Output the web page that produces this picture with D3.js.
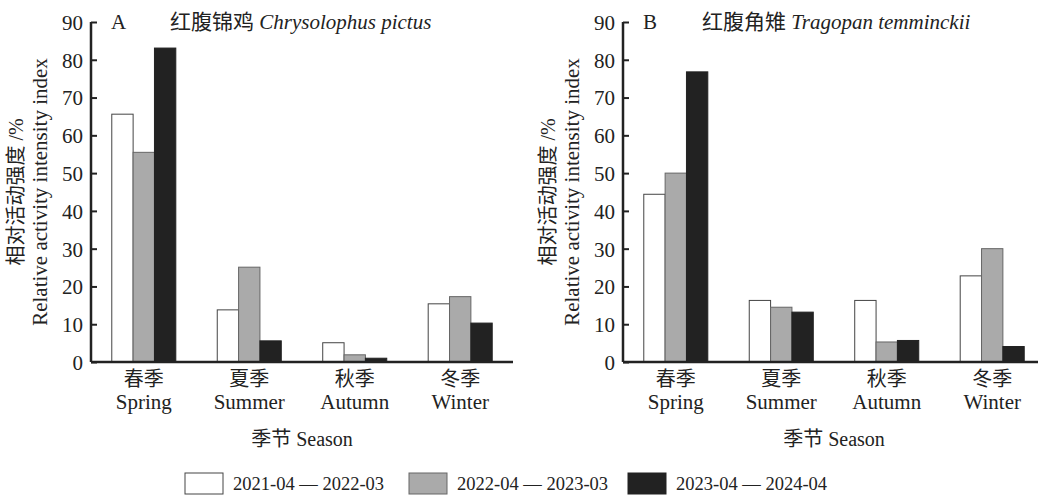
<!DOCTYPE html>
<html>
<head>
<meta charset="utf-8">
<script src="https://cdn.jsdelivr.net/npm/d3@7"></script>
<style>
  body { margin: 0; background: #fff; }
  text { font-family: "Liberation Serif", "Noto Sans CJK SC", serif; fill: #222; }
</style>
</head>
<body>
<svg id="chart" width="1038" height="496" font-family="Liberation Serif"></svg>
<script>
// data
const seasonsZh = ["春季", "夏季", "秋季", "冬季"];
const seasonsEn = ["Spring", "Summer", "Autumn", "Winter"];
const periods = ["2021-04 — 2022-03", "2022-04 — 2023-03", "2023-04 — 2024-04"];
const pictus = [[65.6, 55.5, 83.1], [13.8, 25.1, 5.6], [5.1, 1.9, 1.0], [15.4, 17.3, 10.3]];
const temminckii = [[44.4, 50.0, 76.8], [16.3, 14.5, 13.2], [16.3, 5.3, 5.7], [22.8, 30.0, 4.1]];
const yTicks = [0, 10, 20, 30, 40, 50, 60, 70, 80, 90];

const fills = ["#ffffff", "#aaaaaa", "#222222"];
const strokes = ["#444", "#666", "#222"];

const svg = d3.select("#chart");

// one panel
function panel(left, letter, zhName, latin, values) {
  const width = 422, top = 22, bottom = 362;
  const g = svg.append("g").attr("transform", "translate(" + left + ",0)");

  const x = d3.scaleBand().domain(seasonsEn).range([0, width])
              .paddingInner(0.393).paddingOuter(0.197);
  const xs = d3.scaleBand().domain([0, 1, 2]).range([0, x.bandwidth()]);
  const y = d3.scaleLinear().domain([0, 90]).range([bottom, top]);

  // bars
  g.selectAll("g.grp").data(values).enter().append("g")
   .attr("transform", (d, i) => "translate(" + x(seasonsEn[i]) + ",0)")
   .selectAll("rect").data(d => d).enter().append("rect")
   .attr("x", (d, j) => xs(j))
   .attr("y", d => y(d))
   .attr("width", xs.bandwidth())
   .attr("height", d => bottom - y(d))
   .style("fill", (d, j) => fills[j])
   .style("stroke", (d, j) => strokes[j])
   .style("stroke-width", 1);

  // y axis, ticks inward
  const ya = g.append("g").call(d3.axisRight(y).tickValues(yTicks).tickSize(6).tickFormat(d3.format("d")));
  ya.attr("font-family", null);
  ya.select(".domain").attr("d", "M0," + top + "V" + bottom).style("stroke", "#222").style("stroke-width", 2.5);
  ya.selectAll(".tick line").style("stroke", "#222").style("stroke-width", 2);
  ya.selectAll(".tick text").attr("x", -8).attr("text-anchor", "end")
    .style("font-size", "21px").attr("dy", "0.35em");

  // x axis
  g.append("line").attr("x1", 0).attr("x2", width).attr("y1", bottom).attr("y2", bottom)
   .style("stroke", "#222").style("stroke-width", 2.5);

  const lab = g.selectAll("g.lab").data(seasonsEn).enter().append("g")
               .attr("transform", d => "translate(" + (x(d) + x.bandwidth() / 2) + ",0)");
  lab.append("text").attr("y", 386).attr("text-anchor", "middle").style("font-size", "20px")
     .text((d, i) => seasonsZh[i]);
  lab.append("text").attr("y", 409).attr("text-anchor", "middle").style("font-size", "21px")
     .text(d => d);

  // axis titles
  g.append("text").attr("x", width / 2).attr("y", 446).attr("text-anchor", "middle")
   .style("font-size", "20px").text("季节 Season");

  const yt = g.append("g").attr("transform", "translate(-68," + (top + bottom) / 2 + ") rotate(-90)");
  yt.append("text").attr("text-anchor", "middle").attr("y", 0).style("font-size", "20px").text("相对活动强度 /%");
  yt.append("text").attr("text-anchor", "middle").attr("y", 24).style("font-size", "21px").text("Relative activity intensity index");

  // panel title
  g.append("text").attr("x", 20).attr("y", 29).style("font-size", "21px").text(letter);
  const t = g.append("text").attr("x", 79).attr("y", 29).style("font-size", "21px");
  t.append("tspan").text(zhName + " ");
  t.append("tspan").style("font-style", "italic").text(latin);
}

panel(91, "A", "红腹锦鸡", "Chrysolophus pictus", pictus);
panel(623, "B", "红腹角雉", "Tragopan temminckii", temminckii);

// legend
const legX = [185, 409, 628];
const leg = svg.selectAll("g.leg").data(periods).enter().append("g")
               .attr("transform", (d, i) => "translate(" + legX[i] + ",473)");
leg.append("rect").attr("width", 38).attr("height", 21)
   .style("fill", (d, i) => fills[i]).style("stroke", (d, i) => strokes[i]).style("stroke-width", 1);
leg.append("text").attr("x", 48).attr("y", 17).style("font-size", "18.5px").text(d => d);
</script>
</body>
</html>
